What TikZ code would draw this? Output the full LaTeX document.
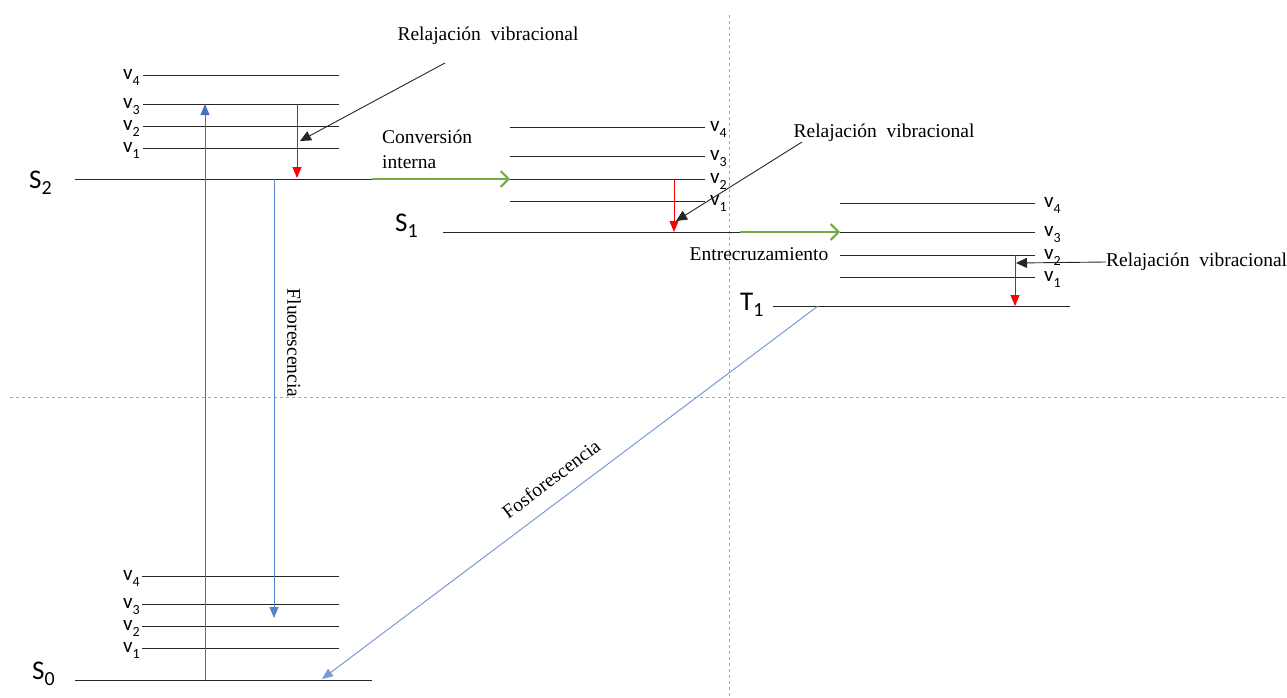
\documentclass[tikz,border=0pt]{standalone}
\usepackage{fontspec}
\setmainfont{Liberation Serif}
\newfontfamily\calfont{Carlito}
\usetikzlibrary{arrows.meta}
\newcommand{\vsub}[2]{#1\raisebox{-0.3em}{\fontsize{14}{14}\selectfont #2}}
\newcommand{\Ssub}[2]{#1\raisebox{-0.25em}{\fontsize{20}{20}\selectfont #2}}
\begin{document}
\begin{tikzpicture}[x=1pt,y=-1pt,
  lvl/.style={line width=1pt,black!85},
  vlab/.style={font=\calfont\fontsize{21}{21}\selectfont, inner sep=0pt},
  slab/.style={font=\calfont\fontsize{27}{27}\selectfont, inner sep=0pt},
  txt/.style={font=\fontsize{19.5}{22}\selectfont, inner sep=0pt},
  guide/.style={black!35, dash pattern=on 3pt off 3pt, line width=0.7pt},
  redarr/.style={red, line width=0.9pt, -{Triangle[length=11pt,width=9pt]}},
  blkarr/.style={black!85, line width=0.9pt, -{Triangle[length=11pt,width=10pt]}},
  bluearr/.style={color=#1, line width=1pt, -{Triangle[length=11pt,width=9pt]}},
  greenarr/.style={color={rgb,255:red,112;green,173;blue,71}, line width=2pt, -{Straight Barb[length=8pt,width=16pt]}}
]
\useasboundingbox (0,0) rectangle (1287,697);
\definecolor{blueA}{RGB}{68,114,196}
\definecolor{blueB}{RGB}{85,130,200}
\definecolor{blueC}{RGB}{120,155,215}

% guide lines
\coordinate (gvt) at (729,15); \coordinate (gvb) at (729,697);
\coordinate (ghl) at (10,397); \coordinate (ghr) at (1287,397);
\draw[guide] (gvt) -- (gvb);
\draw[guide] (ghl) -- (ghr);

% ---------- S2 group ----------
\foreach \n/\y in {4/75,3/104,2/126,1/148}{
  \coordinate (s2v\n l) at (143,\y); \coordinate (s2v\n r) at (339,\y);
  \draw[lvl] (s2v\n l) -- (s2v\n r);
  \node[vlab,anchor=base east] (s2lab\n) at (140,\y+4) {\vsub{v}{\n}};
}
\coordinate (s2l) at (75,179); \coordinate (s2r) at (372,179);
\draw[lvl] (s2l) -- (s2r);
\node[slab,anchor=base west] (S2) at (29,188) {\Ssub{S}{2}};

% ---------- S1 group ----------
\foreach \n/\y in {4/127,3/156,2/179,1/201}{
  \coordinate (s1v\n l) at (510,\y); \coordinate (s1v\n r) at (705,\y);
  \draw[lvl] (s1v\n l) -- (s1v\n r);
  \node[vlab,anchor=base west] (s1lab\n) at (710,\y+4) {\vsub{v}{\n}};
}
\coordinate (s1l) at (443,232); \coordinate (s1r) at (740,232);
\draw[lvl] (s1l) -- (s1r);
\node[slab,anchor=base west] (S1) at (395,231) {\Ssub{S}{1}};

% ---------- T1 group ----------
\foreach \n/\y in {4/203,3/232,2/255,1/277}{
  \coordinate (t1v\n l) at (840,\y); \coordinate (t1v\n r) at (1035,\y);
  \draw[lvl] (t1v\n l) -- (t1v\n r);
  \node[vlab,anchor=base west] (t1lab\n) at (1044,\y+4) {\vsub{v}{\n}};
}
\coordinate (t1l) at (773,306); \coordinate (t1r) at (1070,306);
\draw[lvl] (t1l) -- (t1r);
\node[slab,anchor=base west] (T1) at (740,310) {\Ssub{T}{1}};

% ---------- S0 group ----------
\foreach \n/\y in {4/576,3/604,2/626,1/648}{
  \coordinate (s0v\n l) at (142,\y); \coordinate (s0v\n r) at (339,\y);
  \draw[lvl] (s0v\n l) -- (s0v\n r);
  \node[vlab,anchor=base east] (s0lab\n) at (140,\y+4) {\vsub{v}{\n}};
}
\coordinate (s0l) at (75,680); \coordinate (s0r) at (372,680);
\draw[lvl] (s0l) -- (s0r);
\node[slab,anchor=base west] (S0) at (32,679) {\Ssub{S}{0}};

% ---------- transitions ----------
\coordinate (absA) at (205,680); \coordinate (absB) at (205,104);
\draw[bluearr=blueA] (absA) -- (absB);
\coordinate (fluA) at (274,179); \coordinate (fluB) at (274,618);
\draw[bluearr=blueB] (fluA) -- (fluB);
\node[txt,rotate=-90] (flu) at (294,343) {Fluorescencia};

\coordinate (phA) at (818,306); \coordinate (phB) at (322,679);
\draw[bluearr=blueC] (phA) -- (phB);
\node[txt,rotate=37] (pho) at (551,479) {Fosforescencia};

% vibrational relaxation (red)
\coordinate (r1a) at (297,104); \coordinate (r1b) at (297,178);
\draw[redarr] (r1a) -- (r1b);
\coordinate (r2a) at (674,179); \coordinate (r2b) at (674,232);
\draw[redarr] (r2a) -- (r2b);
\coordinate (r3a) at (1015,255); \coordinate (r3b) at (1015,306);
\draw[redarr] (r3a) -- (r3b);

% green arrows
\draw[greenarr] (s2r) -- (s1v2l);
\draw[greenarr] (s1r) -- (t1v3l);
\node[txt,anchor=base west] (conv) at (382,143) {Conversión};
\node[txt,anchor=base west] (inte) at (382,168) {interna};
\node[txt] (entre) at (759,254) {Entrecruzamiento};

% labels relajacion
\node[txt] (rv1) at (488,36) {Relajación\ \ vibracional};
\node[txt] (rv2) at (884,133) {Relajación\ \ vibracional};
\node[txt,anchor=west] (rv3) at (1106,262) {Relajación\ \ vibracional};
\coordinate (k1a) at (445,63); \coordinate (k1b) at (300,141);
\draw[blkarr] (k1a) -- (k1b);
\coordinate (k2a) at (802,142); \coordinate (k2b) at (676,221);
\draw[blkarr] (k2a) -- (k2b);
\coordinate (k3b) at (1016,263);
\draw[blkarr] (rv3.west) -- (k3b);
\end{tikzpicture}
\end{document}
